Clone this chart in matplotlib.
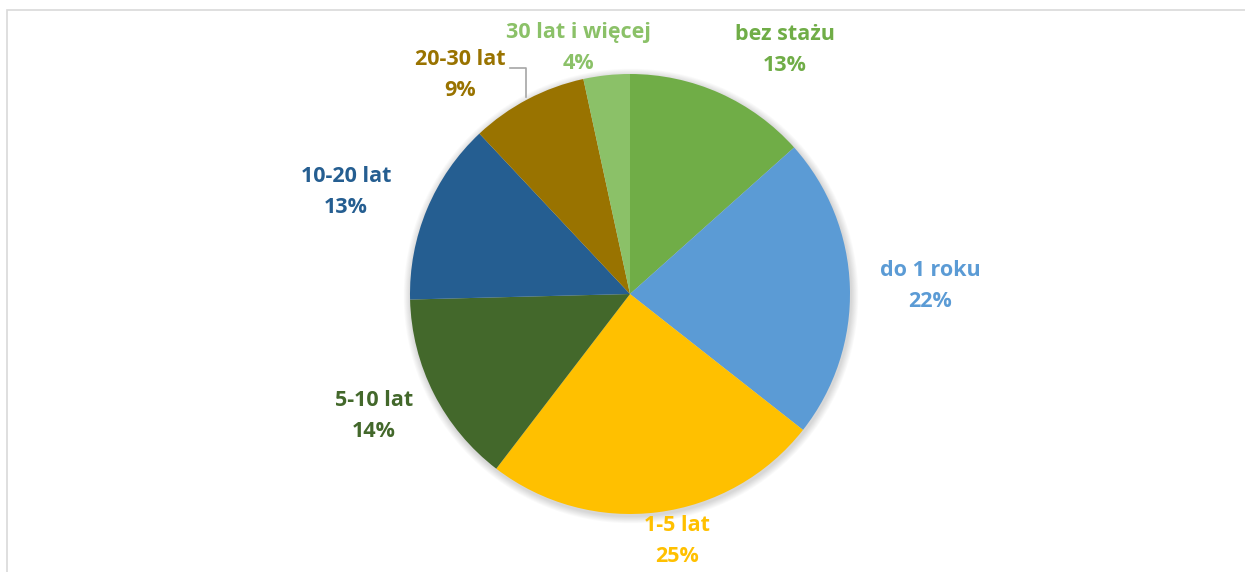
import numpy as np
import matplotlib.pyplot as plt
from matplotlib.patches import Rectangle, Circle

labels = ['bez stażu', 'do 1 roku', '1-5 lat', '5-10 lat', '10-20 lat', '20-30 lat', '30 lat i więcej']
values = [13.4, 22.2, 24.8, 14.2, 13.4, 8.6, 3.4]
pct_text = ['13%', '22%', '25%', '14%', '13%', '9%', '4%']
colors = ['#70AD47', '#5B9BD5', '#FFC000', '#43682B', '#255E91', '#997300', '#8BC168']

# label centres in pixel coords (x from left, y from top)
label_pos = [(785, 50), (930, 286), (677, 541), (374, 416), (346, 192), (460, 75), (578, 48)]

W, H = 1245, 572
fig = plt.figure(figsize=(W / 100, H / 100), dpi=100)
ax = fig.add_axes([0, 0, 1, 1])
ax.set_xlim(0, W)
ax.set_ylim(0, H)
ax.set_aspect('equal')
ax.axis('off')

cx, cy, r = 630, H - 294, 220

# chart frame
ax.add_patch(Rectangle((7, -5), W + 10, H - 10 + 5, fill=False, edgecolor='#D9D9D9', lw=1.2))

# soft shadow
for i in range(8):
    ax.add_patch(Circle((cx + 1, cy - 2), r + 1 + i * 0.9, color='black', alpha=0.018, lw=0, zorder=1))

ax.pie(values, colors=colors, startangle=90, counterclock=False, center=(cx, cy), radius=r,
       wedgeprops=dict(linewidth=0, zorder=2))
for p in ax.patches:
    p.set_zorder(2)
ax.set_xlim(0, W)
ax.set_ylim(0, H)

for lab, pc, c, (x, y) in zip(labels, pct_text, colors, label_pos):
    ax.text(x, H - y, lab + '\n' + pc, color=c, ha='center', va='center', fontsize=15.5,
            fontweight='bold', family=['Open Sans', 'DejaVu Sans'], linespacing=1.65, zorder=5)

# leader line for 20-30 lat
ax.plot([510, 526, 526], [H - 68, H - 68, H - 97], color='#A6A6A6', lw=1.2, zorder=3)

fig.savefig('out.png', dpi=100)
